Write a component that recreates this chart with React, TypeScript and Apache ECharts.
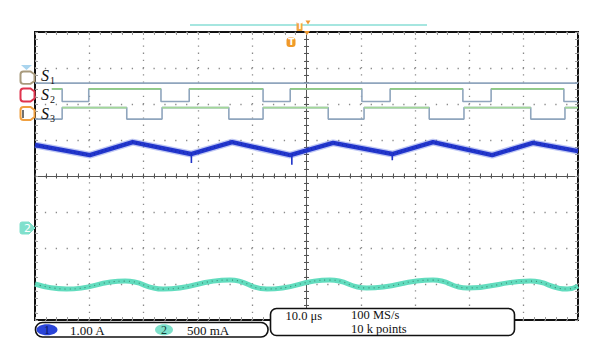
import React, { useEffect, useRef } from "react";
import * as echarts from "echarts";

// ---- data (x in µs relative to trigger, y in divisions) ----
const S1_LEVEL = 2.58;

const S2_START = -46.9;
const S2_HIGH = 2.42;
const S2_LOW = 2.07;
const S2_FALL = [-45.0, -26.8, -8.0, 10.2, 28.8, 47.4];
const S2_RISE = [-40.1, -21.6, -3.0, 15.4, 34.0];

const S3_HIGH = 1.9;
const S3_LOW = 1.58;
const S3_RISE = [-45.0, -26.6, -8.0, 10.6, 29.0, 47.6];
const S3_FALL = [-33.1, -14.3, 4.0, 22.6, 41.3];

const CH1_X = [-50, -39.9, -32.0, -21.3, -13.7, -3.0, 4.9, 15.8, 23.3, 34.2, 41.7, 50];
const CH1_Y = [0.86, 0.58, 0.94, 0.61, 0.94, 0.58, 0.92, 0.61, 0.94, 0.58, 0.92, 0.69];
const CH1_SPIKE_X = [-21.2, -2.7, 15.8];
const CH1_SPIKE_BASE = [0.61, 0.6, 0.61];
const CH1_SPIKE_TIP = [0.36, 0.31, 0.44];

const CH2_X = [-50, -44.2, -33.4, -26.4, -14.1, -7.3, 4.3, 11.1, 23.3, 29.6, 41.2, 48.0, 50];
const CH2_Y = [-3.0, -3.14, -2.92, -3.14, -2.89, -3.14, -2.89, -3.11, -2.89, -3.11, -2.92, -3.14, -3.06];

const X_MIN = -50;
const X_MAX = 50;
const Y_MIN = -4;
const Y_MAX = 4;

const CH1_SCALE = "1.00 A";
const CH2_SCALE = "500 mA";
const TIMEBASE = "10.0 μs";
const SAMPLE_RATE = "100 MS/s";
const RECORD = "10 k points";

// ---- helpers to build step waveforms from edge lists ----
type Pt = [number, number];
function stepWave(start: number, startHigh: boolean, end: number, high: number, low: number, rises: number[], falls: number[]): Pt[] {
  const edges = [
    ...rises.map((x) => ({ x, up: true })),
    ...falls.map((x) => ({ x, up: false })),
  ].sort((a, b) => a.x - b.x);
  const pts: Pt[] = [];
  let lvl = startHigh ? high : low;
  pts.push([start, lvl]);
  for (const e of edges) {
    pts.push([e.x, lvl]);
    lvl = e.up ? high : low;
    pts.push([e.x, lvl]);
  }
  pts.push([end, lvl]);
  return pts;
}
function highSegments(start: number, startHigh: boolean, end: number, high: number, rises: number[], falls: number[]): (Pt | "-")[] {
  const edges = [
    ...rises.map((x) => ({ x, up: true })),
    ...falls.map((x) => ({ x, up: false })),
  ].sort((a, b) => a.x - b.x);
  const out: (Pt | "-")[] = [];
  let isHigh = startHigh;
  let segStart = start;
  for (const e of edges) {
    if (e.up) {
      segStart = e.x;
      isHigh = true;
    } else {
      if (isHigh) {
        out.push([segStart, high], [e.x, high], "-");
      }
      isHigh = false;
    }
  }
  if (isHigh) out.push([segStart, high], [end, high]);
  return out;
}

const FONT = "Liberation Serif";
const TAG_D = "M3 0 L10 0 L14 3 L14 10 L10 13 L3 13 Q0 13 0 10 L0 3 Q0 0 3 0 Z";
const ARROW_D = "M2 0 L9 0 L15 6 L9 12 L2 12 Q0 12 0 10 L0 2 Q0 0 2 0 Z";
echarts.graphic.registerShape("tagShape", echarts.graphic.extendPath(TAG_D, {}) as any);
echarts.graphic.registerShape("arrowShape", echarts.graphic.extendPath(ARROW_D, {}) as any);

export default function App() {
  const ref = useRef<HTMLDivElement>(null);
  useEffect(() => {
    document.body.style.margin = "0";
    if (!ref.current) return;
    const chart = echarts.init(ref.current, undefined, { renderer: "svg" });

    const s2 = stepWave(S2_START, true, X_MAX, S2_HIGH, S2_LOW, S2_RISE, S2_FALL);
    const s2h = highSegments(S2_START, true, X_MAX, S2_HIGH, S2_RISE, S2_FALL);
    const s3 = stepWave(X_MIN, false, X_MAX, S3_HIGH, S3_LOW, S3_RISE, S3_FALL);
    const s3h = highSegments(X_MIN, false, X_MAX, S3_HIGH, S3_RISE, S3_FALL);
    const ch1 = CH1_X.map((x, i) => [x, CH1_Y[i]]);
    const ch2 = CH2_X.map((x, i) => [x, CH2_Y[i]]);

    const tickGrey = "#9a9a9a";
    const borderAxisX = (pos: string) => ({
      type: "value", min: X_MIN, max: X_MAX, interval: 10, position: pos,
      axisLine: { show: false, onZero: false },
      axisLabel: { show: false },
      axisTick: { show: true, inside: true, length: 3, lineStyle: { color: tickGrey, width: 1 } },
      minorTick: { show: true, splitNumber: 5, length: 3, lineStyle: { color: tickGrey, width: 1 } },
      splitLine: { show: false },
    });
    const borderAxisY = (pos: string) => ({
      type: "value", min: Y_MIN, max: Y_MAX, interval: 1, position: pos,
      axisLine: { show: false, onZero: false },
      axisLabel: { show: false },
      axisTick: { show: true, inside: true, length: 3, lineStyle: { color: tickGrey, width: 1 } },
      minorTick: { show: true, splitNumber: 5, length: 3, lineStyle: { color: tickGrey, width: 1 } },
      splitLine: { show: false },
    });
    const crossAxisX = (pos: string, inside: boolean) => ({
      type: "value", min: X_MIN, max: X_MAX, interval: 10, position: pos,
      axisLine: { show: true, onZero: true, onZeroAxisIndex: 0, lineStyle: { color: "#555", width: 1 } },
      axisLabel: { show: false },
      axisTick: { show: true, inside, length: 2.5, lineStyle: { color: "#555", width: 1 } },
      minorTick: { show: true, splitNumber: 5, length: 2.5, lineStyle: { color: "#555", width: 1 } },
      splitLine: { show: false },
    });
    const crossAxisY = (pos: string, inside: boolean) => ({
      type: "value", min: Y_MIN, max: Y_MAX, interval: 1, position: pos,
      axisLine: { show: true, onZero: true, onZeroAxisIndex: 0, lineStyle: { color: "#555", width: 1 } },
      axisLabel: { show: false },
      axisTick: { show: true, inside, length: 2.5, lineStyle: { color: "#555", width: 1 } },
      minorTick: { show: true, splitNumber: 5, length: 2.5, lineStyle: { color: "#555", width: 1 } },
      splitLine: { show: false },
    });

    const x0: any = borderAxisX("bottom");
    x0.splitLine = { show: true, lineStyle: { color: "#8a8a8a", width: 1.3, type: [1.3, 5.9], dashOffset: 0.65 } };
    const y0: any = borderAxisY("left");
    y0.splitLine = { show: true, lineStyle: { color: "#8a8a8a", width: 1.3, type: [1.3, 9.56], dashOffset: 0.65 } };

    const lineBase = { type: "line", xAxisIndex: 0, yAxisIndex: 0, symbol: "none", silent: true };
    const stepLow = "#8fa5bd";
    const stepHigh = "#8fcc84";

    const spikes = CH1_SPIKE_X.map((x, i) => ({
      ...lineBase,
      z: 5,
      data: [[x, CH1_SPIKE_BASE[i]], [x, CH1_SPIKE_TIP[i]]],
      lineStyle: { color: "#1f33c8", width: 1.6 },
    }));

    const txt = (text: string, x: number, y: number, size: number, extra: any = {}) => ({
      type: "text", x, y, z: 120,
      style: { text, fill: "#111", fontFamily: FONT, fontSize: size, verticalAlign: "middle", align: "left", ...extra },
    });

    const sLabel = (n: string, yMid: number) => [
      txt("S", 41, yMid, 16, { fontStyle: "italic" }),
      txt(n, 50, yMid + 5, 10),
    ];

    const option: any = {
      animation: false,
      grid: { left: 35, top: 32, width: 543, height: 288, show: true, borderColor: "#111", borderWidth: 2, backgroundColor: "transparent" },
      xAxis: [x0, borderAxisX("top"), crossAxisX("bottom", false), crossAxisX("top", false)],
      yAxis: [y0, borderAxisY("right"), crossAxisY("left", false), crossAxisY("right", false)],
      series: [
        { ...lineBase, z: 3, data: [[X_MIN, S1_LEVEL], [X_MAX, S1_LEVEL]], lineStyle: { color: stepLow, width: 1.6 } },
        { ...lineBase, z: 3, data: s2, lineStyle: { color: stepLow, width: 1.6 } },
        { ...lineBase, z: 4, data: s2h, connectNulls: false, lineStyle: { color: stepHigh, width: 1.6 } },
        { ...lineBase, z: 3, data: s3, lineStyle: { color: stepLow, width: 1.6 } },
        { ...lineBase, z: 4, data: s3h, connectNulls: false, lineStyle: { color: "#a3d898", width: 1.6 } },
        { ...lineBase, z: 4, data: ch1, lineStyle: { color: "#4a62e0", width: 7, opacity: 0.35, join: "round" } },
        { ...lineBase, z: 5, data: ch1, lineStyle: { color: "#2236cc", width: 4.5, join: "round" } },
        { ...lineBase, z: 6, data: ch1, lineStyle: { color: "#0e1a8a", width: 1.2, opacity: 0.5, type: [1, 3], join: "round" } },
        ...spikes,
        { ...lineBase, z: 4, smooth: 0.5, data: ch2, lineStyle: { color: "#62dcbe", width: 5 } },
        { ...lineBase, z: 5, smooth: 0.5, data: ch2, lineStyle: { color: "#1d4a3c", width: 1.2, opacity: 0.55, type: [1, 4] } },
      ],
      graphic: [
        // trigger position bar
        { type: "line", z: 110, shape: { x1: 190, y1: 25, x2: 427, y2: 25 }, style: { stroke: "#a6e6e0", lineWidth: 2 } },
        { type: "rect", z: 111, shape: { x: 296.5, y: 22, width: 6, height: 9, r: 1 }, style: { fill: "#f2a640" } },
        txt("T", 297.3, 26.7, 8, { fill: "#fff", fontWeight: "bold", fontFamily: "DejaVu Sans" }),
        { type: "polygon", z: 111, shape: { points: [[305.5, 20.5], [310.5, 20.5], [308, 24.5]] }, style: { fill: "#f09a30" } },
        { type: "polygon", z: 111, shape: { points: [[304, 31], [310, 31], [307, 35]] }, style: { fill: "#f09a30" } },
        { type: "rect", z: 111, shape: { x: 286.5, y: 37.5, width: 9, height: 9.5, r: 3 }, style: { fill: "#f09a28" } },
        txt("T", 288.3, 42.4, 9, { fill: "#fff", fontWeight: "bold", fontFamily: "DejaVu Sans" }),
        // channel 1 marker (partly hidden)
        { type: "polygon", z: 111, shape: { points: [[21, 65], [32, 65], [26.5, 70]] }, style: { fill: "#a9d4ee" } },
        // S markers
        { type: "tagShape", z: 111, x: 20.5, y: 71.5, scaleX: 1, scaleY: 0.95, style: { fill: "#fff", stroke: "#a89a7c", lineWidth: 2 } },
        { type: "tagShape", z: 111, x: 20.5, y: 88.5, scaleX: 1, scaleY: 1, style: { fill: "#fff", stroke: "#e0344e", lineWidth: 2 } },
        { type: "tagShape", z: 111, x: 20.5, y: 107, scaleX: 1, scaleY: 1, style: { fill: "#fff", stroke: "#f0a040", lineWidth: 2 } },
        { type: "line", z: 112, shape: { x1: 23, y1: 110, x2: 23, y2: 118 }, style: { stroke: "#111", lineWidth: 1.2 } },
        ...sLabel("1", 75.5),
        ...sLabel("2", 94),
        ...sLabel("3", 113),
        // channel 2 marker
        { type: "arrowShape", z: 111, x: 20, y: 222, style: { fill: "#80e0cc", stroke: "#80e0cc", lineWidth: 1 } },
        txt("2", 24, 228.5, 11, { fill: "#fff", fontFamily: "DejaVu Sans" }),
        // bottom-left scale box
        { type: "rect", z: 110, shape: { x: 35.5, y: 322.5, width: 232.5, height: 14.5, r: 7 }, style: { fill: "#fff", stroke: "#111", lineWidth: 1.6 } },
        { type: "ellipse", z: 111, shape: { cx: 47, cy: 329.7, rx: 10.5, ry: 5.5 }, style: { fill: "#2a44d8" } },
        txt("1", 44, 330, 12, { fill: "#0c1660" }),
        txt(CH1_SCALE, 70, 330, 13),
        { type: "ellipse", z: 111, shape: { cx: 164, cy: 329.7, rx: 9, ry: 5.5 }, style: { fill: "#7ee0ca" } },
        txt("2", 161, 330, 12, { fill: "#14423a" }),
        txt(CH2_SCALE, 187, 330, 13),
        // bottom-right timebase box
        { type: "rect", z: 110, shape: { x: 270.5, y: 308.5, width: 244, height: 27, r: 6 }, style: { fill: "#fff", stroke: "#111", lineWidth: 1.6 } },
        txt(TIMEBASE, 285.5, 316, 12.5),
        txt(SAMPLE_RATE, 351, 315.3, 12.5),
        txt(RECORD, 351, 328.8, 12.5),
      ],
    };
    chart.setOption(option);
    return () => chart.dispose();
  }, []);
  return <div ref={ref} style={{ width: 600, height: 360, background: "#fff" }} />;
}
